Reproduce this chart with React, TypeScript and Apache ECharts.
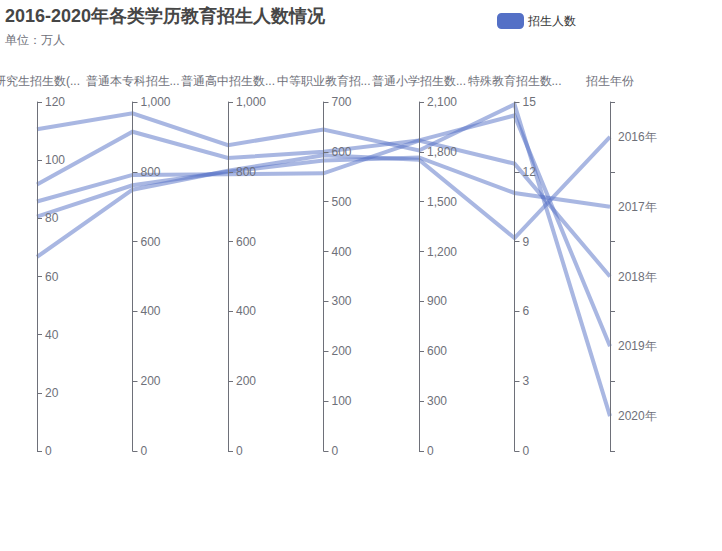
import React, { useEffect, useRef } from "react";
import * as echarts from "echarts";

const axisNames = [
  "研究生招生数(...",
  "普通本专科招生...",
  "普通高中招生数...",
  "中等职业教育招...",
  "普通小学招生数...",
  "特殊教育招生数...",
  "招生年份",
];
const years = ["2016年", "2017年", "2018年", "2019年", "2020年"];
const yearAxisLabels = ["2020年", "2019年", "2018年", "2017年", "2016年"];
const graduate = [66.71, 80.61, 85.8, 91.65, 110.66];
const undergrad = [748.61, 761.49, 790.99, 914.9, 967.45];
const highSchool = [802.92, 800.05, 792.71, 839.49, 876.44];
const vocational = [593.34, 582.43, 557.05, 600.37, 644.66];
const primary = [1752.47, 1766.55, 1867.3, 1869.04, 1808.09];
const special = [9.15, 11.09, 12.35, 14.42, 14.9];
const axisMax = [120, 1000, 1000, 700, 2100, 15];
const axisInterval = [20, 200, 200, 100, 300, 3];

export default function App() {
  const ref = useRef<HTMLDivElement>(null);
  useEffect(() => {
    const chart = echarts.init(ref.current!, undefined, { renderer: "svg" });
    const data = years.map((y, i) => [
      graduate[i],
      undergrad[i],
      highSchool[i],
      vocational[i],
      primary[i],
      special[i],
      y,
    ]);
    const parallelAxis: any[] = axisNames.slice(0, 6).map((name, i) => ({
      dim: i,
      name,
      type: "value",
      min: 0,
      max: axisMax[i],
      interval: axisInterval[i],
    }));
    parallelAxis.push({
      dim: 6,
      name: axisNames[6],
      type: "category",
      data: yearAxisLabels,
    });
    chart.setOption({
      animation: false,
      color: ["#5470c6"],
      title: {
        text: "2016-2020年各类学历教育招生人数情况",
        subtext: "单位：万人",
        left: 0,
        top: 2,
        itemGap: 9,
        textStyle: { fontSize: 18, fontWeight: "bold", color: "#464646" },
        subtextStyle: { fontSize: 12, color: "#6E7079" },
      },
      legend: {
        data: ["招生人数"],
        left: 492,
        top: 8,
        itemWidth: 25,
        itemHeight: 14,
        textStyle: { color: "#333" },
      },
      parallel: {
        left: 37,
        right: 112,
        top: 102,
        bottom: 100,
        parallelAxisDefault: {
          nameTextStyle: { fontSize: 12, color: "#6E7079" },
          nameGap: 15,
          axisLine: { lineStyle: { color: "#6E7079" } },
          axisTick: { lineStyle: { color: "#6E7079" } },
          axisLabel: { color: "#6E7079" },
        },
      },
      parallelAxis,
      series: [
        {
          name: "招生人数",
          type: "parallel",
          lineStyle: { width: 4, opacity: 0.5 },
          data,
        },
      ],
    });
    return () => chart.dispose();
  }, []);
  return (
    <div
      ref={ref}
      style={{ position: "absolute", left: 0, top: 0, width: 722, height: 551 }}
    />
  );
}
